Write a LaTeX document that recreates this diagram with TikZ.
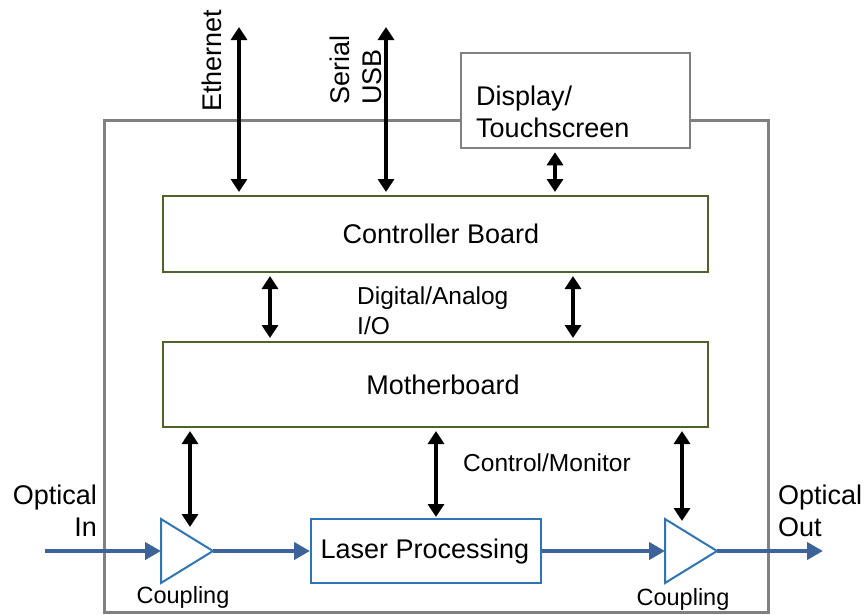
\documentclass[tikz,border=0pt]{standalone}
\usepackage{fontspec}
\setmainfont{Liberation Sans}
\usetikzlibrary{arrows.meta}
\definecolor{framegray}{RGB}{128,128,128}
\definecolor{boardgreen}{RGB}{79,98,40}
\definecolor{optblue}{RGB}{46,117,182}
\definecolor{beamblue}{RGB}{60,100,155}
\tikzset{
  board/.style={draw=boardgreen, line width=2pt, fill=white, minimum width=545pt, inner sep=0pt},
  txt/.style={inner sep=0pt, font=\fontsize{27}{32}\selectfont},
  smalltxt/.style={inner sep=0pt, font=\fontsize{24.5}{30}\selectfont},
  cpltxt/.style={inner sep=0pt, font=\fontsize{23.5}{28}\selectfont},
  bus/.style={line width=4pt, {Triangle[length=13pt,width=16pt]}-{Triangle[length=13pt,width=16pt]}},
  gap/.style={shorten >=3pt, shorten <=3pt},
  beam/.style={line width=4pt, draw=beamblue, -{Triangle[length=16pt,width=17pt]}},
  coupler/.style={draw=optblue, line width=2pt, fill=white, line join=miter},
}
\begin{document}
\begin{tikzpicture}[x=1pt,y=-1pt]
\useasboundingbox (0,0) rectangle (864,614);
% instrument enclosure
\draw[framegray, line width=3pt] (104,612) rectangle (768,120);
% display
\node[draw=framegray, line width=2.5pt, fill=white, minimum width=229pt, minimum height=95pt, inner sep=0pt] (disp) at (575.5,100.5) {};
\node[txt, anchor=west, align=left] (disptxt) at (476,112) {Display/\\Touchscreen};
% boards
\node[board, minimum height=76pt] (ctrl) at (435.5,234) {};
\node[txt] (ctrltxt) at (441,234) {Controller Board};
\node[board, minimum height=85pt] (mobo) at (435.5,384.5) {};
\node[txt] (motxt) at (443,384.5) {Motherboard};
% laser processing
\node[draw=optblue, line width=2pt, fill=white, minimum width=230pt, minimum height=64pt, inner sep=0pt] (laser) at (426,551) {};
\node[txt] (lasertxt) at (425,552) {Laser Processing};
% couplers
\draw[coupler] (161,519) -- (213,551) -- (161,583) -- cycle;
\coordinate (cinL) at (161,551);
\coordinate (coutL) at (213,551);
\coordinate (ctopL) at (190,527);
\draw[coupler] (665,519) -- (717,551) -- (665,583) -- cycle;
\coordinate (cinR) at (665,551);
\coordinate (coutR) at (717,551);
\coordinate (ctopR) at (682,521);
% optical path
\coordinate (optin) at (45,551);
\coordinate (optout) at (823,551);
\draw[beam] (optin) -- (cinL);
\draw[beam] (coutL) -- (laser.west);
\draw[beam] (laser.east) -- (cinR);
\draw[beam] (coutR) -- (optout);
% external interfaces
\coordinate (ethtop) at (239,27);
\coordinate (usbtop) at (386,27);
\draw[bus, shorten >=3pt] (ethtop) -- (ethtop |- ctrl.north);
\draw[bus, shorten >=3pt] (usbtop) -- (usbtop |- ctrl.north);
\draw[bus, gap] ([xshift=-20.5pt]disp.south) -- ([xshift=-20.5pt]disp.south |- ctrl.north);
\node[txt, rotate=90, anchor=west] (eth) at (212,112) {Ethernet};
\node[txt, rotate=90, anchor=west, align=left] (ser) at (356,105) {Serial\\USB};
% board interconnect
\draw[bus, gap] ([xshift=-165.5pt]ctrl.south) -- ([xshift=-165.5pt]ctrl.south |- mobo.north);
\draw[bus, gap] ([xshift=137.5pt]ctrl.south) -- ([xshift=137.5pt]ctrl.south |- mobo.north);
\node[smalltxt, anchor=west, align=left] (dio) at (357,311) {Digital/Analog\\I/O};
% control lines
\coordinate (cmtop) at (436,517);
\draw[bus, shorten <=3pt] (ctopL |- mobo.south) -- (ctopL);
\draw[bus, shorten <=3pt] (cmtop |- mobo.south) -- (cmtop);
\draw[bus, shorten <=3pt] (ctopR |- mobo.south) -- (ctopR);
\node[smalltxt, anchor=west] (cm) at (463,463) {Control/Monitor};
% labels
\node[txt, anchor=east, align=right] (oin) at (97,511) {Optical\\In};
\node[txt, anchor=west, align=left] (oout) at (778,511) {Optical\\Out};
\node[cpltxt] (cplL) at (183,597) {Coupling};
\node[cpltxt] (cplR) at (683,599) {Coupling};
\end{tikzpicture}
\end{document}
